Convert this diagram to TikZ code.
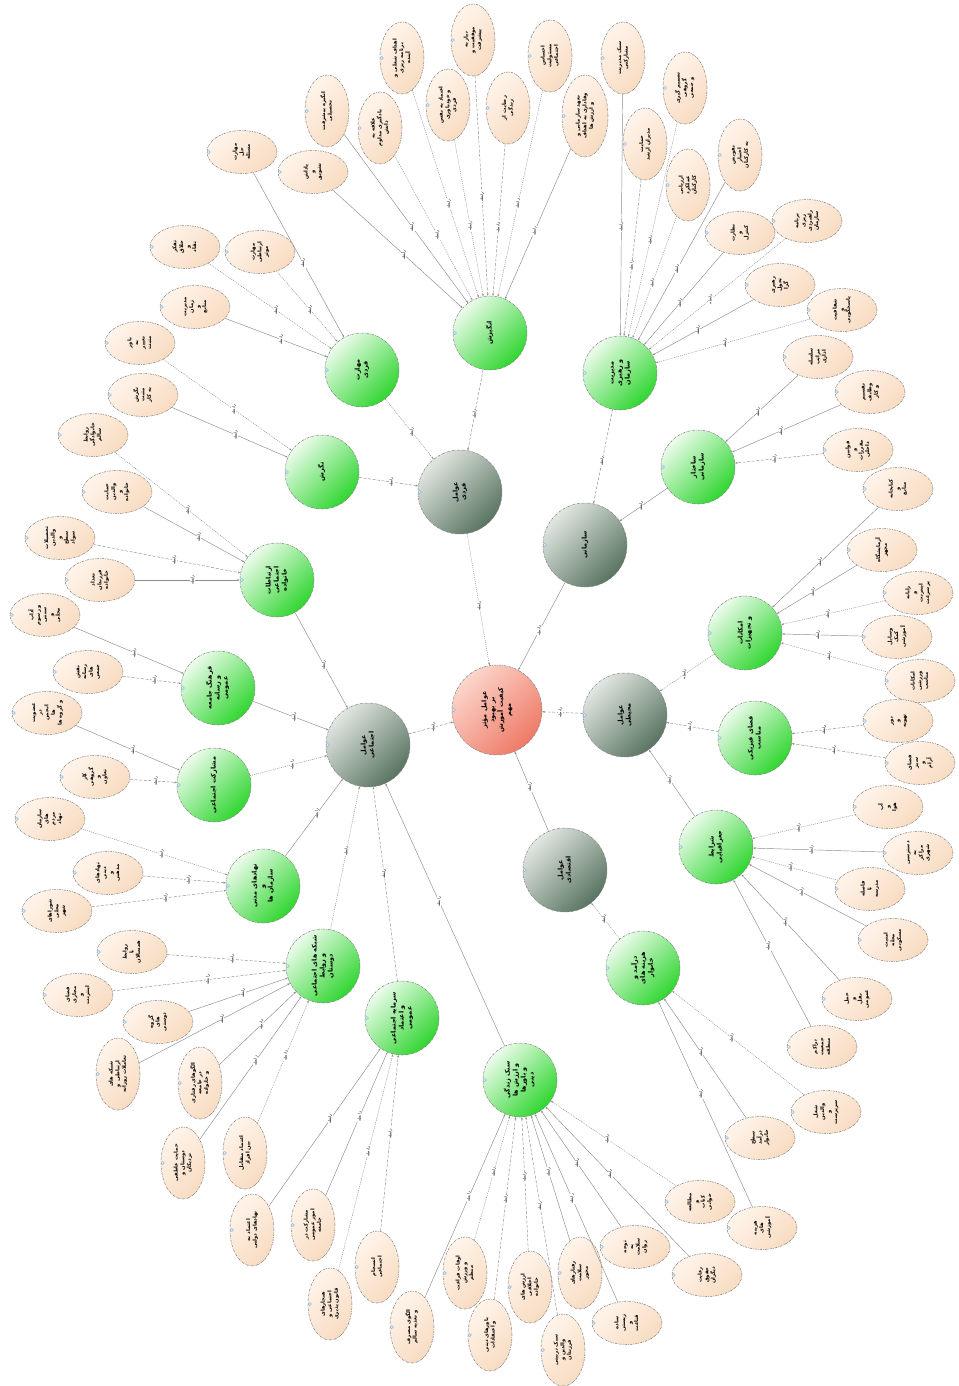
\documentclass[tikz,border=0pt]{standalone}
\usepackage{fontspec}
\usetikzlibrary{shapes.geometric,arrows.meta}
\TeXXeTstate=1
\newfontfamily\arabicfont[Script=Arabic]{DejaVu Sans}
\definecolor{redL}{HTML}{FCD6CC}
\definecolor{redD}{HTML}{EE7A66}
\definecolor{greyL}{HTML}{E2E7E2}
\definecolor{greyD}{HTML}{587460}
\definecolor{grnL}{HTML}{ECFCEC}
\definecolor{grnD}{HTML}{30D630}
\definecolor{peachL}{HTML}{FFF4EA}
\definecolor{peachD}{HTML}{F8DCC2}
\definecolor{icon}{HTML}{5A9AD6}
\newcommand\etxt[1]{\rotatebox{90}{\arabicfont\bfseries\fontsize{5.2}{6.6}\selectfont\begin{tabular}{@{}c@{}}#1\end{tabular}}}
\newcommand\ctxt[1]{\rotatebox{90}{\arabicfont\bfseries\fontsize{6.4}{8}\selectfont\begin{tabular}{@{}c@{}}#1\end{tabular}}}
\newcommand\lbl{\rotatebox{90}{\arabicfont\fontsize{3.8}{3.8}\selectfont\beginR رابطه\endR}}
\newcommand\ed[3]{\draw[#1] (#2) -- node[lab]{\lbl} (#3);}
\tikzset{
  base/.style={draw=black!50, line width=0.5pt, dash pattern=on 2.5pt off 1pt on 0.6pt off 1pt, inner sep=0pt},
  rootc/.style={base, circle, minimum size=90pt, top color=redL, bottom color=redD, shading angle=45},
  greyc/.style={base, circle, minimum size=84pt, top color=greyL, bottom color=greyD, shading angle=45},
  greenc/.style={base, circle, minimum size=74pt, top color=grnL, bottom color=grnD, shading angle=45},
  ellh/.style={base, ellipse, minimum width=70pt, minimum height=43pt, top color=peachL, bottom color=peachD, shading angle=45},
  ellv/.style={base, ellipse, minimum width=44pt, minimum height=72pt, top color=peachL, bottom color=peachD, shading angle=45},
  conn/.style={draw=black!45, line width=0.45pt, -{Stealth[length=2.6pt,width=2pt]}},
  ln/.style={conn},
  lnd/.style={conn, dash pattern=on 3pt off 1.6pt},
  lnp/.style={conn, dash pattern=on 1pt off 1pt},
  lab/.style={pos=0.55, inner sep=0.4pt, fill=white, text=black},
  icn/.style={draw=icon, fill=white, line width=0.35pt}
}
\begin{document}
\begin{tikzpicture}[x=1pt,y=-1pt]
\useasboundingbox[fill=white] (0,0) rectangle (958,1386);

% ---------- root and main branches ----------
\node[rootc] (R) at (497,710) {\ctxt{\beginR عوامل مؤثر\endR\\\beginR بر بهبود\endR\\\beginR کیفیت آموزش\endR\\\beginR مهم\endR}};
\node[greyc] (G1) at (460,492) {\ctxt{\beginR عوامل\endR\\\beginR فردی\endR}};
\node[greyc] (G2) at (585,545) {\ctxt{\beginR سازمانی\endR}};
\node[greyc] (G3) at (625,715) {\ctxt{\beginR عوامل\endR\\\beginR محیطی\endR}};
\node[greyc] (G4) at (565,870) {\ctxt{\beginR عوامل\endR\\\beginR اقتصادی\endR}};
\node[greyc] (G5) at (368,745) {\ctxt{\beginR عوامل\endR\\\beginR اجتماعی\endR}};

% ---------- second level ----------
\node[greenc] (T)   at (490,333) {\ctxt{\beginR انگیزش\endR}};
\node[greenc] (TL)  at (362,370) {\ctxt{\beginR مهارت\endR\\\beginR فردی\endR}};
\node[greenc] (L1)  at (322,472) {\ctxt{\beginR نگرش\endR}};
\node[greenc] (L2)  at (277,580) {\ctxt{\beginR ارتباطات\endR\\\beginR اجتماعی\endR\\\beginR خانواده\endR}};
\node[greenc] (L3)  at (218,688) {\ctxt{\beginR فرهنگ جامعه\endR\\\beginR و رسانه\endR\\\beginR عمومی\endR}};
\node[greenc] (L4)  at (214,785) {\ctxt{\beginR مشارکت اجتماعی\endR}};
\node[greenc] (L5)  at (263,886) {\ctxt{\beginR نهادهای مدنی\endR\\\beginR و\endR\\\beginR سازمان ها\endR}};
\node[greenc] (L6)  at (323,966) {\ctxt{\beginR شبکه های اجتماعی\endR\\\beginR و روابط\endR\\\beginR دوستان\endR}};
\node[greenc] (L7)  at (402,1018) {\ctxt{\beginR سرمایه اجتماعی\endR\\\beginR و اعتماد\endR\\\beginR عمومی\endR}};
\node[greenc] (L8)  at (520,1080) {\ctxt{\beginR سبک زندگی\endR\\\beginR و ارزش ها\endR\\\beginR و باورها\endR\\\beginR دینی\endR}};
\node[greenc] (L9)  at (643,968) {\ctxt{\beginR درآمد و\endR\\\beginR هزینه های\endR\\\beginR خانوار\endR}};
\node[greenc] (T2)  at (620,373) {\ctxt{\beginR مدیریت\endR\\\beginR و رهبری\endR\\\beginR سازمان\endR}};
\node[greenc] (G2a) at (698,467) {\ctxt{\beginR ساختار\endR\\\beginR سازمانی\endR}};
\node[greenc] (G3a) at (745,633) {\ctxt{\beginR امکانات\endR\\\beginR و تجهیزات\endR}};
\node[greenc] (G3b) at (755,738) {\ctxt{\beginR فضای فیزیکی\endR\\\beginR مناسب\endR}};
\node[greenc] (G3c) at (716,847) {\ctxt{\beginR شرایط\endR\\\beginR جغرافیایی\endR}};

% ---------- leaves: T ----------
\node[ellv] (t1) at (327,111) {\etxt{\beginR انگیزه پیشرفت\endR\\\beginR تحصیلی\endR}};
\node[ellv] (t2) at (380,128) {\etxt{\beginR علاقه به\endR\\\beginR یادگیری مداوم\endR\\\beginR دانش\endR}};
\node[ellv] (t3) at (402,58)  {\etxt{\beginR اهداف شغلی و\endR\\\beginR برنامه ریزی\endR\\\beginR آینده\endR}};
\node[ellv] (t4) at (448,105) {\etxt{\beginR اعتماد به نفس\endR\\\beginR و خودباوری\endR\\\beginR فردی\endR}};
\node[ellv] (t5) at (473,40)  {\etxt{\beginR نیاز به\endR\\\beginR موفقیت و\endR\\\beginR پیشرفت\endR}};
\node[ellv] (t6) at (508,108) {\etxt{\beginR رضایت از\endR\\\beginR زندگی\endR}};
\node[ellv] (t7) at (550,56)  {\etxt{\beginR احساس\endR\\\beginR مسئولیت\endR\\\beginR اجتماعی\endR}};
\node[ellv,minimum width=46pt,minimum height=82pt] (t8) at (585,116) {\etxt{\beginR تعهد سازمانی و\endR\\\beginR وفاداری به اهداف\endR\\\beginR و ارزش ها\endR}};
\node[ellh] (t9) at (313,172) {\etxt{\beginR پاداش\endR\\\beginR و\endR\\\beginR تشویق\endR}};
% TL
\node[ellh] (tl1) at (242,152) {\etxt{\beginR مهارت\endR\\\beginR حل\endR\\\beginR مسئله\endR}};
\node[ellh] (tl2) at (185,247) {\etxt{\beginR تفکر\endR\\\beginR خلاق\endR\\\beginR و\endR\\\beginR نقاد\endR}};
\node[ellh] (tl3) at (260,252) {\etxt{\beginR مهارت\endR\\\beginR ارتباطی\endR\\\beginR موثر\endR}};
\node[ellh] (tl4) at (195,307) {\etxt{\beginR مدیریت\endR\\\beginR زمان\endR\\\beginR و\endR\\\beginR منابع\endR}};
% L1
\node[ellh] (l1a) at (140,343) {\etxt{\beginR باور\endR\\\beginR به\endR\\\beginR تغییر\endR\\\beginR مثبت\endR}};
\node[ellh] (l1b) at (143,395) {\etxt{\beginR نگرش\endR\\\beginR مثبت\endR\\\beginR به کار\endR}};
% L2
\node[ellh] (l2a) at (93,435)  {\etxt{\beginR روابط\endR\\\beginR خانوادگی\endR\\\beginR سالم\endR}};
\node[ellh] (l2b) at (117,492) {\etxt{\beginR حمایت\endR\\\beginR والدین\endR\\\beginR و\endR\\\beginR خانواده\endR}};
\node[ellh] (l2c) at (60,538)  {\etxt{\beginR تحصیلات\endR\\\beginR والدین\endR\\\beginR و\endR\\\beginR سطح\endR\\\beginR سواد\endR}};
\node[ellh] (l2d) at (100,580) {\etxt{\beginR تعداد\endR\\\beginR فرزندان\endR\\\beginR خانواده\endR}};
% L3
\node[ellh] (l3a) at (45,615)  {\etxt{\beginR آداب\endR\\\beginR و رسوم\endR\\\beginR سنتی\endR\\\beginR و\endR\\\beginR محلی\endR}};
\node[ellh] (l3b) at (88,672)  {\etxt{\beginR نقش\endR\\\beginR رسانه\endR\\\beginR های\endR\\\beginR جمعی\endR}};
% L4
\node[ellh] (l4a) at (47,713)  {\etxt{\beginR عضویت\endR\\\beginR در\endR\\\beginR انجمن\endR\\\beginR ها\endR\\\beginR و گروه ها\endR}};
\node[ellh] (l4b) at (95,777)  {\etxt{\beginR کار\endR\\\beginR گروهی\endR\\\beginR و\endR\\\beginR تعاون\endR}};
% L5
\node[ellh] (l5a) at (50,819)  {\etxt{\beginR سازمان\endR\\\beginR های\endR\\\beginR مردم\endR\\\beginR نهاد\endR}};
\node[ellh] (l5b) at (108,873) {\etxt{\beginR نهادهای\endR\\\beginR دینی\endR\\\beginR و\endR\\\beginR مذهبی\endR}};
\node[ellh] (l5c) at (57,911)  {\etxt{\beginR شوراهای\endR\\\beginR محلی\endR\\\beginR شهر\endR}};
% L6
\node[ellh] (l6a) at (132,952) {\etxt{\beginR روابط\endR\\\beginR با\endR\\\beginR همسالان\endR}};
\node[ellh] (l6b) at (78,995)  {\etxt{\beginR فضای\endR\\\beginR مجازی\endR\\\beginR و\endR\\\beginR اینترنت\endR}};
\node[ellh] (l6c) at (158,1022) {\etxt{\beginR گروه\endR\\\beginR های\endR\\\beginR دوستی\endR}};
\node[ellv] (l6d) at (118,1074) {\etxt{\beginR شبکه های\endR\\\beginR ارتباطی و\endR\\\beginR تعاملات روزانه\endR}};
\node[ellv] (l6e) at (200,1083) {\etxt{\beginR الگوهای رفتاری\endR\\\beginR در جامعه\endR\\\beginR و خانواده\endR}};
\node[ellv] (l6f) at (183,1163) {\etxt{\beginR حمایت عاطفی\endR\\\beginR دوستان و\endR\\\beginR نزدیکان\endR}};
\node[ellv] (l6g) at (245,1153) {\etxt{\beginR اعتماد متقابل\endR\\\beginR بین افراد\endR}};
% L7
\node[ellv] (l7a) at (252,1230) {\etxt{\beginR اعتماد به\endR\\\beginR نهادهای دولتی\endR}};
\node[ellv] (l7b) at (313,1225) {\etxt{\beginR مشارکت در\endR\\\beginR امور عمومی\endR\\\beginR جامعه\endR}};
\node[ellv] (l7c) at (377,1267) {\etxt{\beginR انسجام\endR\\\beginR اجتماعی\endR}};
\node[ellv] (l7d) at (330,1304) {\etxt{\beginR هنجارهای\endR\\\beginR اجتماعی و\endR\\\beginR قانون پذیری\endR}};
% L8
\node[ellv] (l8a) at (412,1327) {\etxt{\beginR الگوی مصرف\endR\\\beginR و تغذیه سالم\endR}};
\node[ellv] (l8b) at (465,1273) {\etxt{\beginR اوقات فراغت\endR\\\beginR و ورزش\endR\\\beginR منظم\endR}};
\node[ellv] (l8c) at (490,1335) {\etxt{\beginR باورهای دینی\endR\\\beginR و اعتقادات\endR}};
\node[ellv] (l8d) at (530,1287) {\etxt{\beginR ارزش های\endR\\\beginR اخلاقی\endR\\\beginR خانواده\endR}};
\node[ellv] (l8e) at (563,1350) {\etxt{\beginR سبک تربیتی\endR\\\beginR والدین و\endR\\\beginR فرزندان\endR}};
\node[ellv] (l8f) at (580,1273) {\etxt{\beginR رفتارهای\endR\\\beginR سلامت\endR\\\beginR محور\endR}};
\node[ellh] (l8g) at (627,1323) {\etxt{\beginR ساده\endR\\\beginR زیستی\endR\\\beginR و\endR\\\beginR قناعت\endR}};
\node[ellh] (l8h) at (635,1247) {\etxt{\beginR توجه\endR\\\beginR به\endR\\\beginR سلامت\endR\\\beginR روان\endR}};
\node[ellh] (l8i) at (700,1202) {\etxt{\beginR مطالعه\endR\\\beginR و\endR\\\beginR کتاب\endR\\\beginR خوانی\endR}};
\node[ellh] (l8j) at (707,1275) {\etxt{\beginR رعایت\endR\\\beginR حقوق\endR\\\beginR دیگران\endR}};
% L9
\node[ellh] (l9a) at (760,1138) {\etxt{\beginR سطح\endR\\\beginR درآمد\endR\\\beginR خانوار\endR}};
\node[ellh] (l9b) at (762,1228) {\etxt{\beginR هزینه\endR\\\beginR های\endR\\\beginR آموزشی\endR}};
\node[ellh] (l9c) at (826,1112) {\etxt{\beginR شغل\endR\\\beginR والدین\endR\\\beginR و\endR\\\beginR سرپرست\endR}};
% T2
\node[ellv] (u1) at (623,58)  {\etxt{\beginR سبک مدیریت\endR\\\beginR مشارکتی\endR}};
\node[ellv] (u2) at (645,144) {\etxt{\beginR حمایت\endR\\\beginR مدیران ارشد\endR}};
\node[ellv] (u3) at (685,88)  {\etxt{\beginR تصمیم گیری\endR\\\beginR گروهی\endR\\\beginR و جمعی\endR}};
\node[ellv] (u4) at (688,185) {\etxt{\beginR ارزیابی\endR\\\beginR عملکرد\endR\\\beginR کارکنان\endR}};
\node[ellv] (u5) at (740,155) {\etxt{\beginR تفویض\endR\\\beginR اختیار\endR\\\beginR به کارکنان\endR}};
\node[ellh] (u6) at (740,233) {\etxt{\beginR نظارت\endR\\\beginR و\endR\\\beginR کنترل\endR}};
\node[ellh] (u7) at (807,221) {\etxt{\beginR برنامه\endR\\\beginR ریزی\endR\\\beginR راهبردی\endR\\\beginR سازمان\endR}};
\node[ellh] (u8) at (780,285) {\etxt{\beginR رهبری\endR\\\beginR تحول\endR\\\beginR گرا\endR}};
\node[ellh] (u9) at (842,310) {\etxt{\beginR شفافیت\endR\\\beginR و\endR\\\beginR پاسخگویی\endR}};
% G2a
\node[ellh] (v1) at (818,357) {\etxt{\beginR سلسله\endR\\\beginR مراتب\endR\\\beginR اداری\endR}};
\node[ellh] (v2) at (870,392) {\etxt{\beginR تقسیم\endR\\\beginR وظایف\endR\\\beginR و کار\endR}};
\node[ellh] (v3) at (858,450) {\etxt{\beginR قوانین\endR\\\beginR و\endR\\\beginR مقررات\endR\\\beginR داخلی\endR}};
% G3a
\node[ellh] (a1) at (898,489) {\etxt{\beginR کتابخانه\endR\\\beginR و\endR\\\beginR منابع\endR}};
\node[ellh] (a2) at (882,550) {\etxt{\beginR آزمایشگاه\endR\\\beginR مجهز\endR}};
\node[ellh] (a3) at (918,593) {\etxt{\beginR رایانه\endR\\\beginR و\endR\\\beginR اینترنت\endR\\\beginR پرسرعت\endR}};
\node[ellh] (a4) at (897,637) {\etxt{\beginR وسایل\endR\\\beginR کمک\endR\\\beginR آموزشی\endR}};
\node[ellh] (a5) at (920,681) {\etxt{\beginR امکانات\endR\\\beginR ورزشی\endR\\\beginR مناسب\endR}};
% G3b
\node[ellh] (b1) at (898,721) {\etxt{\beginR نور\endR\\\beginR و\endR\\\beginR تهویه\endR}};
\node[ellh] (b2) at (920,763) {\etxt{\beginR فضای\endR\\\beginR سبز\endR\\\beginR و\endR\\\beginR آرام\endR}};
% G3c
\node[ellh] (c1) at (888,807) {\etxt{\beginR آب\endR\\\beginR و\endR\\\beginR هوا\endR}};
\node[ellh] (c2) at (918,853) {\etxt{\beginR دسترسی\endR\\\beginR به\endR\\\beginR مراکز\endR\\\beginR شهری\endR}};
\node[ellh] (c3) at (870,889) {\etxt{\beginR فاصله\endR\\\beginR تا\endR\\\beginR مدرسه\endR}};
\node[ellh] (c4) at (893,940) {\etxt{\beginR امنیت\endR\\\beginR محله\endR\\\beginR مسکونی\endR}};
\node[ellh] (c5) at (857,999) {\etxt{\beginR حمل\endR\\\beginR و\endR\\\beginR نقل\endR\\\beginR عمومی\endR}};
\node[ellh] (c6) at (822,1047) {\etxt{\beginR تراکم\endR\\\beginR جمعیت\endR\\\beginR منطقه\endR}};

% ---------- connectors ----------
\ed{lnp}{G1}{R} \ed{ln}{G2}{R} \ed{lnd}{G3}{R} \ed{ln}{G4}{R} \ed{lnd}{G5}{R}
\ed{lnd}{T}{G1} \ed{lnp}{TL}{G1} \ed{lnd}{L1}{G1}
\ed{lnd}{T2}{G2} \ed{ln}{G2a}{G2}
\ed{lnp}{G3a}{G3} \ed{lnd}{G3b}{G3} \ed{ln}{G3c}{G3}
\ed{lnp}{L9}{G4}
\ed{ln}{L2}{G5} \ed{ln}{L3}{G5} \ed{lnp}{L4}{G5} \ed{ln}{L5}{G5} \ed{lnp}{L6}{G5} \ed{lnd}{L7}{G5} \ed{ln}{L8}{G5}
\ed{ln}{t1}{T} \ed{lnp}{t2}{T} \ed{lnp}{t3}{T} \ed{lnp}{t4}{T} \ed{lnd}{t5}{T} \ed{lnd}{t6}{T} \ed{lnp}{t7}{T} \ed{ln}{t8}{T} \ed{ln}{t9}{T}
\ed{ln}{tl1}{TL} \ed{lnp}{tl2}{TL} \ed{lnp}{tl3}{TL} \ed{ln}{tl4}{TL}
\ed{lnp}{l1a}{L1} \ed{ln}{l1b}{L1}
\ed{lnp}{l2a}{L2} \ed{ln}{l2b}{L2} \ed{lnd}{l2c}{L2} \ed{ln}{l2d}{L2}
\ed{ln}{l3a}{L3} \ed{lnd}{l3b}{L3}
\ed{ln}{l4a}{L4} \ed{lnd}{l4b}{L4}
\ed{lnp}{l5a}{L5} \ed{lnd}{l5b}{L5} \ed{lnd}{l5c}{L5}
\ed{lnd}{l6a}{L6} \ed{lnd}{l6b}{L6} \ed{ln}{l6c}{L6} \ed{ln}{l6d}{L6} \ed{ln}{l6e}{L6} \ed{ln}{l6f}{L6} \ed{lnp}{l6g}{L6}
\ed{ln}{l7a}{L7} \ed{ln}{l7b}{L7} \ed{lnd}{l7c}{L7} \ed{lnp}{l7d}{L7}
\ed{ln}{l8a}{L8} \ed{lnp}{l8b}{L8} \ed{lnd}{l8c}{L8} \ed{lnd}{l8d}{L8} \ed{lnd}{l8e}{L8} \ed{ln}{l8f}{L8} \ed{ln}{l8g}{L8} \ed{ln}{l8h}{L8} \ed{lnp}{l8i}{L8} \ed{ln}{l8j}{L8}
\ed{ln}{l9a}{L9} \ed{ln}{l9b}{L9} \ed{lnp}{l9c}{L9}
\ed{ln}{u1}{T2} \ed{lnd}{u2}{T2} \ed{lnp}{u3}{T2} \ed{lnp}{u4}{T2} \ed{ln}{u5}{T2} \ed{ln}{u6}{T2} \ed{lnp}{u7}{T2} \ed{ln}{u8}{T2} \ed{lnp}{u9}{T2}
\ed{ln}{v1}{G2a} \ed{ln}{v2}{G2a} \ed{lnd}{v3}{G2a}
\ed{ln}{a1}{G3a} \ed{ln}{a2}{G3a} \ed{lnp}{a3}{G3a} \ed{ln}{a4}{G3a} \ed{lnp}{a5}{G3a}
\ed{lnd}{b1}{G3b} \ed{lnd}{b2}{G3b}
\ed{lnp}{c1}{G3c} \ed{ln}{c2}{G3c} \ed{lnp}{c3}{G3c} \ed{ln}{c4}{G3c} \ed{ln}{c5}{G3c} \ed{ln}{c6}{G3c}

% ---------- small icons on the left of each node ----------
\foreach \n in {R,G1,G2,G3,G4,G5,T,TL,L1,L2,L3,L4,L5,L6,L7,L8,L9,T2,G2a,G3a,G3b,G3c,
  t1,t2,t3,t4,t5,t6,t7,t8,t9,tl1,tl2,tl3,tl4,l1a,l1b,l2a,l2b,l2c,l2d,l3a,l3b,l4a,l4b,
  l5a,l5b,l5c,l6a,l6b,l6c,l6d,l6e,l6f,l6g,l7a,l7b,l7c,l7d,l8a,l8b,l8c,l8d,l8e,l8f,l8g,l8h,l8i,l8j,
  l9a,l9b,l9c,u1,u2,u3,u4,u5,u6,u7,u8,u9,v1,v2,v3,a1,a2,a3,a4,a5,b1,b2,c1,c2,c3,c4,c5,c6}
  \draw[icn] ([xshift=2.2pt]\n.west) circle[radius=1.5pt];
\end{tikzpicture}
\end{document}
